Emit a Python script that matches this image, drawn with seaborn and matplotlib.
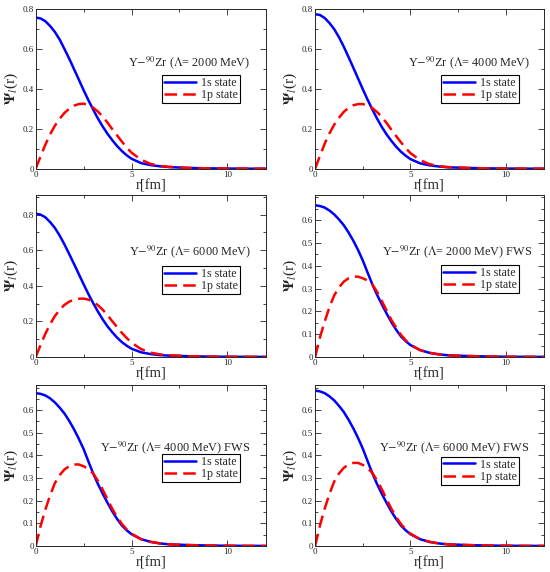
import numpy as np
import pandas as pd
import matplotlib
matplotlib.use("Agg")
import matplotlib.pyplot as plt
from matplotlib.ticker import MultipleLocator, FuncFormatter
import seaborn as sns

# radial grid (fm)
r = [0, 0.25, 0.5, 0.75, 1, 1.25, 1.5, 1.75, 2, 2.25, 2.5, 2.75, 3, 3.25, 3.5,
     3.75, 4, 4.25, 4.5, 4.75, 5, 5.5, 6, 6.5, 7, 8, 9, 10, 11, 12]

tail = [0.004, 0.002, 0.001, 0.0005, 0.0002]

# Lambda = 2000 MeV
s_2000 = [0.755, 0.751, 0.737, 0.713, 0.683, 0.645, 0.598, 0.549, 0.497, 0.445, 0.392,
          0.342, 0.295, 0.25, 0.21, 0.174, 0.142, 0.113, 0.088, 0.067, 0.05,
          0.028, 0.018, 0.012, 0.008] + tail
p_2000 = [0, 0.062, 0.12, 0.172, 0.215, 0.25, 0.279, 0.3, 0.315, 0.323, 0.325,
          0.318, 0.305, 0.285, 0.26, 0.23, 0.197, 0.166, 0.135, 0.106, 0.08,
          0.045, 0.024, 0.014, 0.009] + tail
# Lambda = 4000 MeV
s_4000 = [0.772, 0.768, 0.753, 0.728, 0.697, 0.657, 0.61, 0.558, 0.505, 0.451, 0.397,
          0.345, 0.296, 0.25, 0.208, 0.171, 0.139, 0.11, 0.085, 0.065, 0.048,
          0.027, 0.017, 0.011, 0.007] + tail
p_4000 = [0, 0.064, 0.125, 0.177, 0.22, 0.255, 0.284, 0.304, 0.317, 0.323, 0.323,
          0.316, 0.303, 0.283, 0.258, 0.228, 0.195, 0.163, 0.132, 0.103, 0.078,
          0.043, 0.023, 0.013, 0.008] + tail
# Lambda = 6000 MeV
s_6000 = [0.805, 0.8, 0.785, 0.758, 0.725, 0.682, 0.632, 0.578, 0.522, 0.465, 0.408,
          0.353, 0.302, 0.254, 0.21, 0.171, 0.138, 0.108, 0.083, 0.063, 0.046,
          0.026, 0.016, 0.01, 0.007] + tail
p_6000 = [0, 0.067, 0.13, 0.184, 0.23, 0.265, 0.293, 0.311, 0.322, 0.327, 0.328,
          0.322, 0.31, 0.29, 0.265, 0.234, 0.2, 0.167, 0.135, 0.106, 0.08,
          0.044, 0.024, 0.014, 0.009] + tail
# FWS, Lambda = 2000 MeV
s_2000f = [0.665, 0.662, 0.655, 0.642, 0.625, 0.603, 0.578, 0.546, 0.51, 0.469, 0.423,
           0.37, 0.318, 0.272, 0.23, 0.19, 0.152, 0.119, 0.09, 0.069, 0.052,
           0.03, 0.018, 0.011, 0.007] + tail
p_2000f = [0, 0.085, 0.155, 0.218, 0.27, 0.305, 0.33, 0.345, 0.352, 0.352, 0.345,
           0.335, 0.318, 0.285, 0.245, 0.203, 0.162, 0.128, 0.097, 0.073, 0.054,
           0.03, 0.018, 0.011, 0.007] + tail
# FWS, Lambda = 4000 MeV
s_4000f = [0.675, 0.672, 0.665, 0.652, 0.634, 0.611, 0.585, 0.552, 0.515, 0.473, 0.428,
           0.373, 0.32, 0.273, 0.23, 0.19, 0.152, 0.119, 0.09, 0.069, 0.052,
           0.03, 0.018, 0.011, 0.007] + tail
p_4000f = [0, 0.088, 0.16, 0.224, 0.278, 0.313, 0.338, 0.353, 0.36, 0.36, 0.352,
           0.34, 0.32, 0.287, 0.248, 0.205, 0.163, 0.128, 0.097, 0.073, 0.054,
           0.03, 0.018, 0.011, 0.007] + tail
# FWS, Lambda = 6000 MeV
s_6000f = [0.686, 0.683, 0.675, 0.661, 0.643, 0.619, 0.592, 0.558, 0.52, 0.477, 0.43,
           0.375, 0.321, 0.273, 0.23, 0.19, 0.152, 0.119, 0.09, 0.069, 0.052,
           0.03, 0.018, 0.011, 0.007] + tail
p_6000f = [0, 0.09, 0.165, 0.23, 0.285, 0.32, 0.345, 0.36, 0.367, 0.367, 0.358,
           0.344, 0.323, 0.289, 0.25, 0.206, 0.164, 0.128, 0.097, 0.073, 0.054,
           0.03, 0.018, 0.011, 0.007] + tail

labels = ["2000 MeV)", "4000 MeV)", "6000 MeV)", "2000 MeV) FWS", "4000 MeV) FWS", "6000 MeV) FWS"]
series = [(s_2000, p_2000), (s_4000, p_4000), (s_6000, p_6000),
          (s_2000f, p_2000f), (s_4000f, p_4000f), (s_6000f, p_6000f)]

sns.set_style("ticks")
plt.rcParams['font.family'] = ['Liberation Serif', 'DejaVu Serif']
plt.rcParams['mathtext.fontset'] = 'stix'

fig = plt.figure(figsize=(5.5, 5.72), dpi=100)

# axes positions [left, bottom, width, height]
pos = [[0.065, 0.705, 0.418, 0.28], [0.573, 0.705, 0.416, 0.28],
       [0.065, 0.376, 0.418, 0.283], [0.573, 0.376, 0.416, 0.283],
       [0.065, 0.0455, 0.418, 0.281], [0.573, 0.0455, 0.416, 0.281]]
ytop = [0.8, 0.8, 0.91, 0.71, 0.71, 0.71]
ymaj = [0.2, 0.2, 0.2, 0.1, 0.1, 0.1]
text_x = [0.40, 0.405, 0.405, 0.29, 0.28, 0.28]
text_y = [0.66, 0.66, 0.65, 0.65, 0.61, 0.61]
leg_y = [0.585, 0.585, 0.56, 0.565, 0.57, 0.555]

fmt = FuncFormatter(lambda v, p: "%g" % round(v, 3))

for i in range(6):
    ax = fig.add_axes(pos[i])
    s, pp = series[i]
    df = pd.DataFrame({
        "r": r + r,
        "psi": s + pp,
        "state": ["1s state"] * len(r) + ["1p state"] * len(r),
    })
    sns.lineplot(data=df, x="r", y="psi", hue="state", style="state",
                 palette={"1s state": "#0000ff", "1p state": "#ff0000"},
                 dashes={"1s state": "", "1p state": (5, 2.5)},
                 linewidth=1.8, ax=ax, legend=False)
    ax.plot([], [], color="#0000ff", lw=1.8, label="1s state")
    ax.plot([], [], color="#ff0000", lw=1.8, dashes=(5, 2.5), label="1p state")

    ax.set_xlim(0, 12)
    ax.set_ylim(0, ytop[i])
    ax.xaxis.set_major_locator(MultipleLocator(5))
    ax.xaxis.set_minor_locator(MultipleLocator(2.5))
    ax.yaxis.set_major_locator(MultipleLocator(ymaj[i]))
    ax.yaxis.set_minor_locator(MultipleLocator(ymaj[i] / 2))
    if ytop[i] < 0.8:
        ax.set_yticks(np.arange(0, 0.65, 0.1))
    ax.yaxis.set_major_formatter(fmt)
    ax.tick_params(which="both", direction="in", top=True, right=True,
                   labelsize=6.5, width=0.6, pad=1.5)
    ax.tick_params(which="major", length=4)
    ax.tick_params(which="minor", length=2)
    for sp in ax.spines.values():
        sp.set_linewidth(0.7)

    ax.set_xlabel("r[fm]", fontsize=10.5, labelpad=0)
    ax.set_ylabel(r"$\mathbf{\Psi}_{l}$(r)", fontsize=11, labelpad=2)

    ax.text(text_x[i], text_y[i], r"Y$-^{90}$Zr ($\Lambda$= " + labels[i],
            transform=ax.transAxes, fontsize=8.8, ha="left", va="center")
    leg = ax.legend(loc="upper left", bbox_to_anchor=(0.55, leg_y[i]),
                    borderaxespad=0, fontsize=8.6, handlelength=2.7,
                    labelspacing=0.02, borderpad=0.15, handletextpad=0.4,
                    fancybox=False, framealpha=1, edgecolor="black")
    leg.get_frame().set_linewidth(0.8)

fig.savefig("out.png", dpi=100)
